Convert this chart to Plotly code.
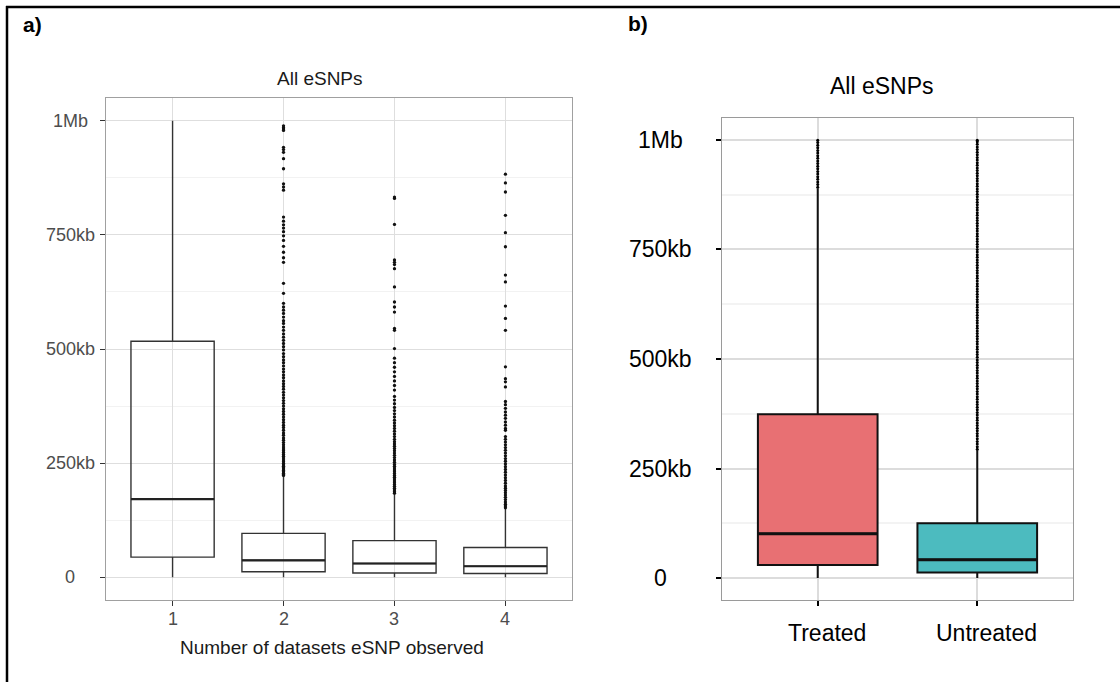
import plotly.graph_objects as go

W, H = 1120, 682
FONT = "Liberation Sans, Arial, sans-serif"

# ---------------- data (kb) ----------------
a_categories = ["1", "2", "3", "4"]
a_q1 = [44, 12, 9, 8]
a_median = [171, 37, 30, 24]
a_q3 = [517, 96, 80, 65]
a_lowerfence = [0, 0, 0, 0]
a_upperfence = [1000, 222, 183, 150]

a_outliers_2 = [989, 985, 982, 979, 942, 937, 931, 917, 895, 862, 855, 848,
                789, 780, 772, 765, 757, 748, 738, 725, 712, 700, 690, 644, 622,
                600, 592, 585, 578, 570, 562, 556, 548, 541, 533, 526, 519, 512,
                505, 498, 490, 483, 476, 470, 463, 456, 450, 443, 437, 430, 424,
                418, 412, 405, 399, 393, 387, 381, 375, 369, 363, 357, 351, 345,
                339, 333, 328, 322, 316, 311, 305, 300, 295, 290, 285, 281, 277,
                273, 269, 265, 261, 257, 253, 249, 246, 243, 240, 237, 234, 231,
                228, 225, 223]
a_outliers_3 = [833, 830, 773, 695, 690, 685, 676, 636, 603, 592, 581, 545, 541,
                501, 480, 470, 460, 450, 440, 430, 420, 410, 396, 388, 380, 372,
                365, 358, 351, 344, 338, 332, 326, 320, 314, 308, 302, 297, 292,
                287, 282, 277, 272, 267, 262, 257, 252, 247, 243, 239, 235, 231,
                227, 223, 219, 215, 211, 207, 203, 199, 195, 191, 187, 184]
a_outliers_4 = [883, 864, 844, 793, 755, 724, 662, 647, 594, 567, 541, 461, 435,
                428, 417, 385, 378, 370, 362, 355, 348, 340, 333, 326, 322, 308,
                302, 296, 290, 284, 278, 272, 266, 260, 254, 248, 242, 236, 230,
                224, 218, 212, 206, 200, 195, 190, 185, 180, 175, 170, 165, 160,
                156, 152]

b_categories = ["Treated", "Untreated"]
b_q1 = [30, 13]
b_median = [101, 42]
b_q3 = [374, 125]
b_lowerfence = [0, 0]
b_upperfence = [889, 292]
b_colors = ["#E87073", "#4CBBBF"]

b_outliers_treated = [892, 898, 904, 910, 916, 922, 928, 934, 940, 946, 952,
                      958, 964, 970, 976, 982, 988, 994, 999]
b_outliers_untreated = [294, 300, 306, 312, 318, 324, 330, 336, 342, 348, 354,
                        360, 366, 372, 378, 384, 390, 396, 402, 408, 414, 420,
                        426, 432, 438, 444, 450, 456, 462, 468, 474, 480, 486,
                        492, 498, 504, 510, 516, 522, 528, 534, 540, 546, 552,
                        558, 564, 570, 576, 582, 588, 594, 600, 606, 612, 618,
                        624, 630, 636, 642, 648, 654, 660, 666, 672, 678, 684,
                        690, 696, 702, 708, 714, 720, 726, 732, 738, 744, 750,
                        756, 762, 768, 774, 780, 786, 792, 798, 804, 810, 816,
                        822, 828, 834, 840, 846, 852, 858, 864, 870, 876, 882,
                        888, 894, 900, 906, 912, 918, 924, 930, 936, 942, 948,
                        954, 960, 966, 972, 978, 984, 990, 996, 999]

y_tickvals = [0, 250, 500, 750, 1000]
y_ticktext = ["0", "250kb", "500kb", "750kb", "1Mb"]


def px(x):
    return x / W


def py(y):
    return 1 - y / H


fig = go.Figure()

# ---------- panel a ----------
for i, c in enumerate(a_categories):
    fig.add_trace(go.Box(
        x=[c], q1=[a_q1[i]], median=[a_median[i]], q3=[a_q3[i]],
        lowerfence=[a_lowerfence[i]], upperfence=[a_upperfence[i]],
        boxpoints=False, width=0.75, whiskerwidth=0,
        fillcolor="rgba(255,255,255,0)", line=dict(color="#333333", width=1.4),
        xaxis="x", yaxis="y", showlegend=False, hoverinfo="skip"))
    # thicker median bar (ggplot draws the median heavier than the box)
    fig.add_trace(go.Box(
        x=[c], q1=[a_median[i]], median=[a_median[i]], q3=[a_median[i]],
        lowerfence=[a_median[i]], upperfence=[a_median[i]],
        boxpoints=False, width=0.75, whiskerwidth=0,
        fillcolor="rgba(0,0,0,0)", line=dict(color="#222222", width=2.2),
        xaxis="x", yaxis="y", showlegend=False, hoverinfo="skip"))

for c, vals in zip(a_categories[1:], [a_outliers_2, a_outliers_3, a_outliers_4]):
    fig.add_trace(go.Scatter(
        x=[c] * len(vals), y=vals, mode="markers",
        marker=dict(color="#111111", size=3.3),
        xaxis="x", yaxis="y", showlegend=False, hoverinfo="skip"))

# ---------- panel b ----------
for c, vals in zip(b_categories, [b_outliers_treated, b_outliers_untreated]):
    fig.add_trace(go.Scatter(
        x=[c] * len(vals), y=vals, mode="markers",
        marker=dict(color="#000000", size=3),
        xaxis="x2", yaxis="y2", showlegend=False, hoverinfo="skip"))

for i, c in enumerate(b_categories):
    fig.add_trace(go.Box(
        x=[c], q1=[b_q1[i]], median=[b_median[i]], q3=[b_q3[i]],
        lowerfence=[b_lowerfence[i]], upperfence=[b_upperfence[i]],
        boxpoints=False, width=0.75, whiskerwidth=0,
        fillcolor=b_colors[i], line=dict(color="#111111", width=2),
        xaxis="x2", yaxis="y2", showlegend=False, hoverinfo="skip"))
    fig.add_trace(go.Box(
        x=[c], q1=[b_median[i]], median=[b_median[i]], q3=[b_median[i]],
        lowerfence=[b_median[i]], upperfence=[b_median[i]],
        boxpoints=False, width=0.75, whiskerwidth=0,
        fillcolor="rgba(0,0,0,0)", line=dict(color="#111111", width=3),
        xaxis="x2", yaxis="y2", showlegend=False, hoverinfo="skip"))

common_y = dict(range=[-50, 1050], tickmode="array", tickvals=y_tickvals,
                showticklabels=False, ticks="outside", ticklen=5,
                zeroline=False, showline=True, mirror=True)

fig.update_layout(
    width=W, height=H, margin=dict(l=0, r=0, t=0, b=0),
    paper_bgcolor="white", plot_bgcolor="white",
    font=dict(family=FONT), boxmode="overlay",
    xaxis=dict(domain=[px(106), px(572)], anchor="y", type="category",
               range=[-0.6, 3.6], showticklabels=False, ticks="outside",
               ticklen=5, tickcolor="#333333", showgrid=True,
               gridcolor="#DEDEDE", gridwidth=1.4, showline=True, mirror=True,
               linecolor="#A0A0A0", linewidth=1),
    yaxis=dict(domain=[py(600), py(98)], anchor="x", tickcolor="#333333",
               gridcolor="#DEDEDE", gridwidth=1.4, linecolor="#A0A0A0",
               linewidth=1,
               minor=dict(tick0=125, dtick=250, showgrid=True,
                          gridcolor="#F2F2F2", gridwidth=1, ticklen=0),
               **common_y),
    xaxis2=dict(domain=[px(722), px(1073)], anchor="y2", type="category",
                range=[-0.6, 1.6], showticklabels=False, ticks="outside",
                ticklen=5, tickcolor="#000000", tickwidth=2, showgrid=True,
                gridcolor="#DCDCDC", gridwidth=2, showline=True, mirror=True,
                linecolor="#9A9A9A", linewidth=1.2),
    yaxis2=dict(domain=[py(600), py(118)], anchor="x2", tickcolor="#000000",
                tickwidth=2, gridcolor="#DCDCDC", gridwidth=2,
                linecolor="#9A9A9A", linewidth=1.2,
                minor=dict(tick0=125, dtick=250, showgrid=True,
                           gridcolor="#F3F3F3", gridwidth=1.5, ticklen=0),
                **common_y),
)

ann = []
# y tick labels (centred, as in the reference)
for v, t in zip(y_tickvals, y_ticktext):
    ann.append(dict(text=t, xref="paper", x=px(70), yref="y", y=v,
                    xanchor="center", yanchor="middle", showarrow=False,
                    font=dict(size=18, color="#4D4D4D", family=FONT)))
    ann.append(dict(text=t, xref="paper", x=px(660), yref="y2", y=v,
                    xanchor="center", yanchor="middle", showarrow=False,
                    font=dict(size=23, color="#000000", family=FONT)))
# x tick labels (category index positions)
for i, c in enumerate(a_categories):
    ann.append(dict(text=c, xref="x", x=i, yref="paper", y=py(619),
                    xanchor="center", yanchor="middle", showarrow=False,
                    font=dict(size=18, color="#4D4D4D", family=FONT)))
for i, c in enumerate(b_categories):
    ann.append(dict(text=c, xref="x2", x=i, xshift=9, yref="paper", y=py(633),
                    xanchor="center", yanchor="middle", showarrow=False,
                    font=dict(size=23, color="#000000", family=FONT)))
# titles
ann += [
    dict(text="<b>a)</b>", xref="paper", x=px(21), yref="paper", y=py(25),
         xanchor="left", yanchor="middle", showarrow=False,
         font=dict(size=21, color="#000000", family=FONT)),
    dict(text="<b>b)</b>", xref="paper", x=px(626), yref="paper", y=py(24),
         xanchor="left", yanchor="middle", showarrow=False,
         font=dict(size=21, color="#000000", family=FONT)),
    dict(text="All eSNPs", xref="paper", x=px(320), yref="paper", y=py(78),
         xanchor="center", yanchor="middle", showarrow=False,
         font=dict(size=19, color="#1A1A1A", family=FONT)),
    dict(text="All eSNPs", xref="paper", x=px(882), yref="paper", y=py(86),
         xanchor="center", yanchor="middle", showarrow=False,
         font=dict(size=23, color="#000000", family=FONT)),
    dict(text="Number of datasets eSNP observed", xref="paper", x=px(332),
         yref="paper", y=py(647), xanchor="center", yanchor="middle",
         showarrow=False, font=dict(size=19, color="#1A1A1A", family=FONT)),
]
fig.update_layout(annotations=ann)

# outer frame (top and left edges)
fig.update_layout(shapes=[
    dict(type="line", xref="paper", yref="paper", x0=px(6), x1=1, y0=py(7),
         y1=py(7), line=dict(color="black", width=2.5)),
    dict(type="line", xref="paper", yref="paper", x0=px(7), x1=px(7),
         y0=py(6), y1=0, line=dict(color="black", width=2.5)),
])

fig.write_html("out.html",
               config={"displayModeBar": False},
               post_script="document.body.style.margin='0';"
                           "document.body.style.overflow='hidden';")
